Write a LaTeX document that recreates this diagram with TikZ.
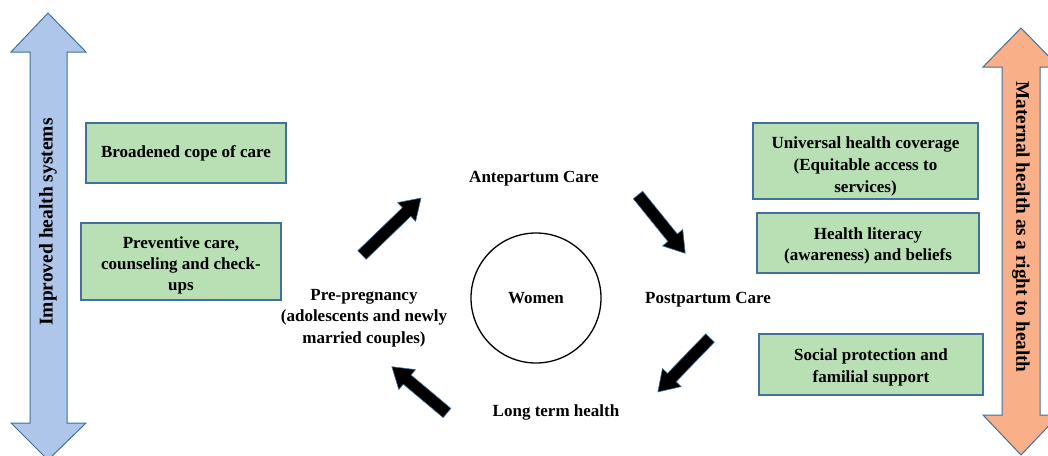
\documentclass[tikz,border=0pt]{standalone}
\usepackage{fontspec}
\setmainfont{Liberation Serif}
\definecolor{boxgreen}{HTML}{B9DFB4}
\definecolor{boxedge}{HTML}{41719C}
\definecolor{leftblue}{HTML}{ADC6EA}
\definecolor{rightorange}{HTML}{F9B088}
\tikzset{
  gbox/.style={draw=boxedge, fill=boxgreen, line width=1.2pt, inner sep=0pt},
  lbl/.style={align=center, font=\fontsize{17}{21.5}\selectfont\bfseries},
  biglbl/.style={font=\fontsize{19.5}{22}\selectfont\bfseries},
  blk/.style={fill=black, draw=boxedge, line width=0.6pt, line join=miter},
  barrow/.pic={\path[blk] (0,-6) -- ({#1-20},-6) -- ({#1-20},-13) -- (#1,0) -- ({#1-20},13) -- ({#1-20},6) -- (0,6) -- cycle;}
}
\begin{document}
\begin{tikzpicture}[x=1pt,y=-1pt]
\useasboundingbox (0,0) rectangle (1048,455);
% left double arrow
\path[draw=boxedge, fill=leftblue, line width=1pt, line join=miter]
  (48,13) -- (86,52) -- (67,52) -- (67,423) -- (86,423) -- (48,460) -- (11,423) -- (30,423) -- (30,52) -- (11,52) -- cycle;
\node[biglbl, rotate=90] (lefttxt) at (48,222) {Improved health systems};
% right double arrow
\path[draw=boxedge, fill=rightorange, line width=1pt, line join=miter]
  (1021,28) -- (1059,67) -- (1040,67) -- (1040,415) -- (1059,415) -- (1021,455) -- (983,415) -- (1002,415) -- (1002,67) -- (983,67) -- cycle;
\node[biglbl, rotate=-90, font=\fontsize{19.2}{22}\selectfont\bfseries] (righttxt) at (1021,227) {Maternal health as a right to health};
% green boxes
\node[gbox, minimum width=200pt, minimum height=60pt] (broad) at (186,153) {};
\node[lbl] (broadtxt) at ([yshift=-0.5pt]broad.center) {Broadened cope of care};
\node[gbox, minimum width=200pt, minimum height=77pt] (prev) at (181,261.5) {};
\node[lbl, font=\fontsize{17}{21}\selectfont\bfseries] (prevtxt) at ([yshift=-4pt]prev.center) {Preventive care,\\counseling and check-\\ups};
\node[gbox, minimum width=225pt, minimum height=76pt] (uhc) at (865.5,161) {};
\node[lbl, font=\fontsize{17}{22}\selectfont\bfseries] (uhctxt) at ([yshift=-5pt]uhc.center) {Universal health coverage\\(Equitable access to\\services)};
\node[gbox, minimum width=222pt, minimum height=60pt] (lit) at (868,243) {};
\node[lbl] (littxt) at ([yshift=-3pt]lit.center) {Health literacy\\(awareness) and beliefs};
\node[gbox, minimum width=224pt, minimum height=61pt] (soc) at (871,364.5) {};
\node[lbl] (soctxt) at ([yshift=-3pt]soc.center) {Social protection and\\familial support};
% centre
\node[draw=black, line width=1.3pt, circle, minimum size=130pt, inner sep=0pt, lbl] (women) at (536,298) {Women};
\node[lbl] (ante) at (534,179) {Antepartum Care};
\node[lbl] (post) at (708,300) {Postpartum Care};
\node[lbl] (long) at (556,412) {Long term health};
\node[lbl] (pre) at (364,318) {Pre-pregnancy\\(adolescents and newly\\married couples)};
% block arrows of the cycle
\coordinate (t1) at (362,255);
\coordinate (t2) at (638,195);
\coordinate (t3) at (710,338);
\coordinate (t4) at (447,413);
\pic (a1) [rotate=44] at (t1) {barrow=82};
\pic (a2) [rotate=-51] at (t2) {barrow=75};
\pic (a3) [rotate=-134] at (t3) {barrow=75};
\pic (a4) [rotate=140] at (t4) {barrow=72};
\end{tikzpicture}
\end{document}
